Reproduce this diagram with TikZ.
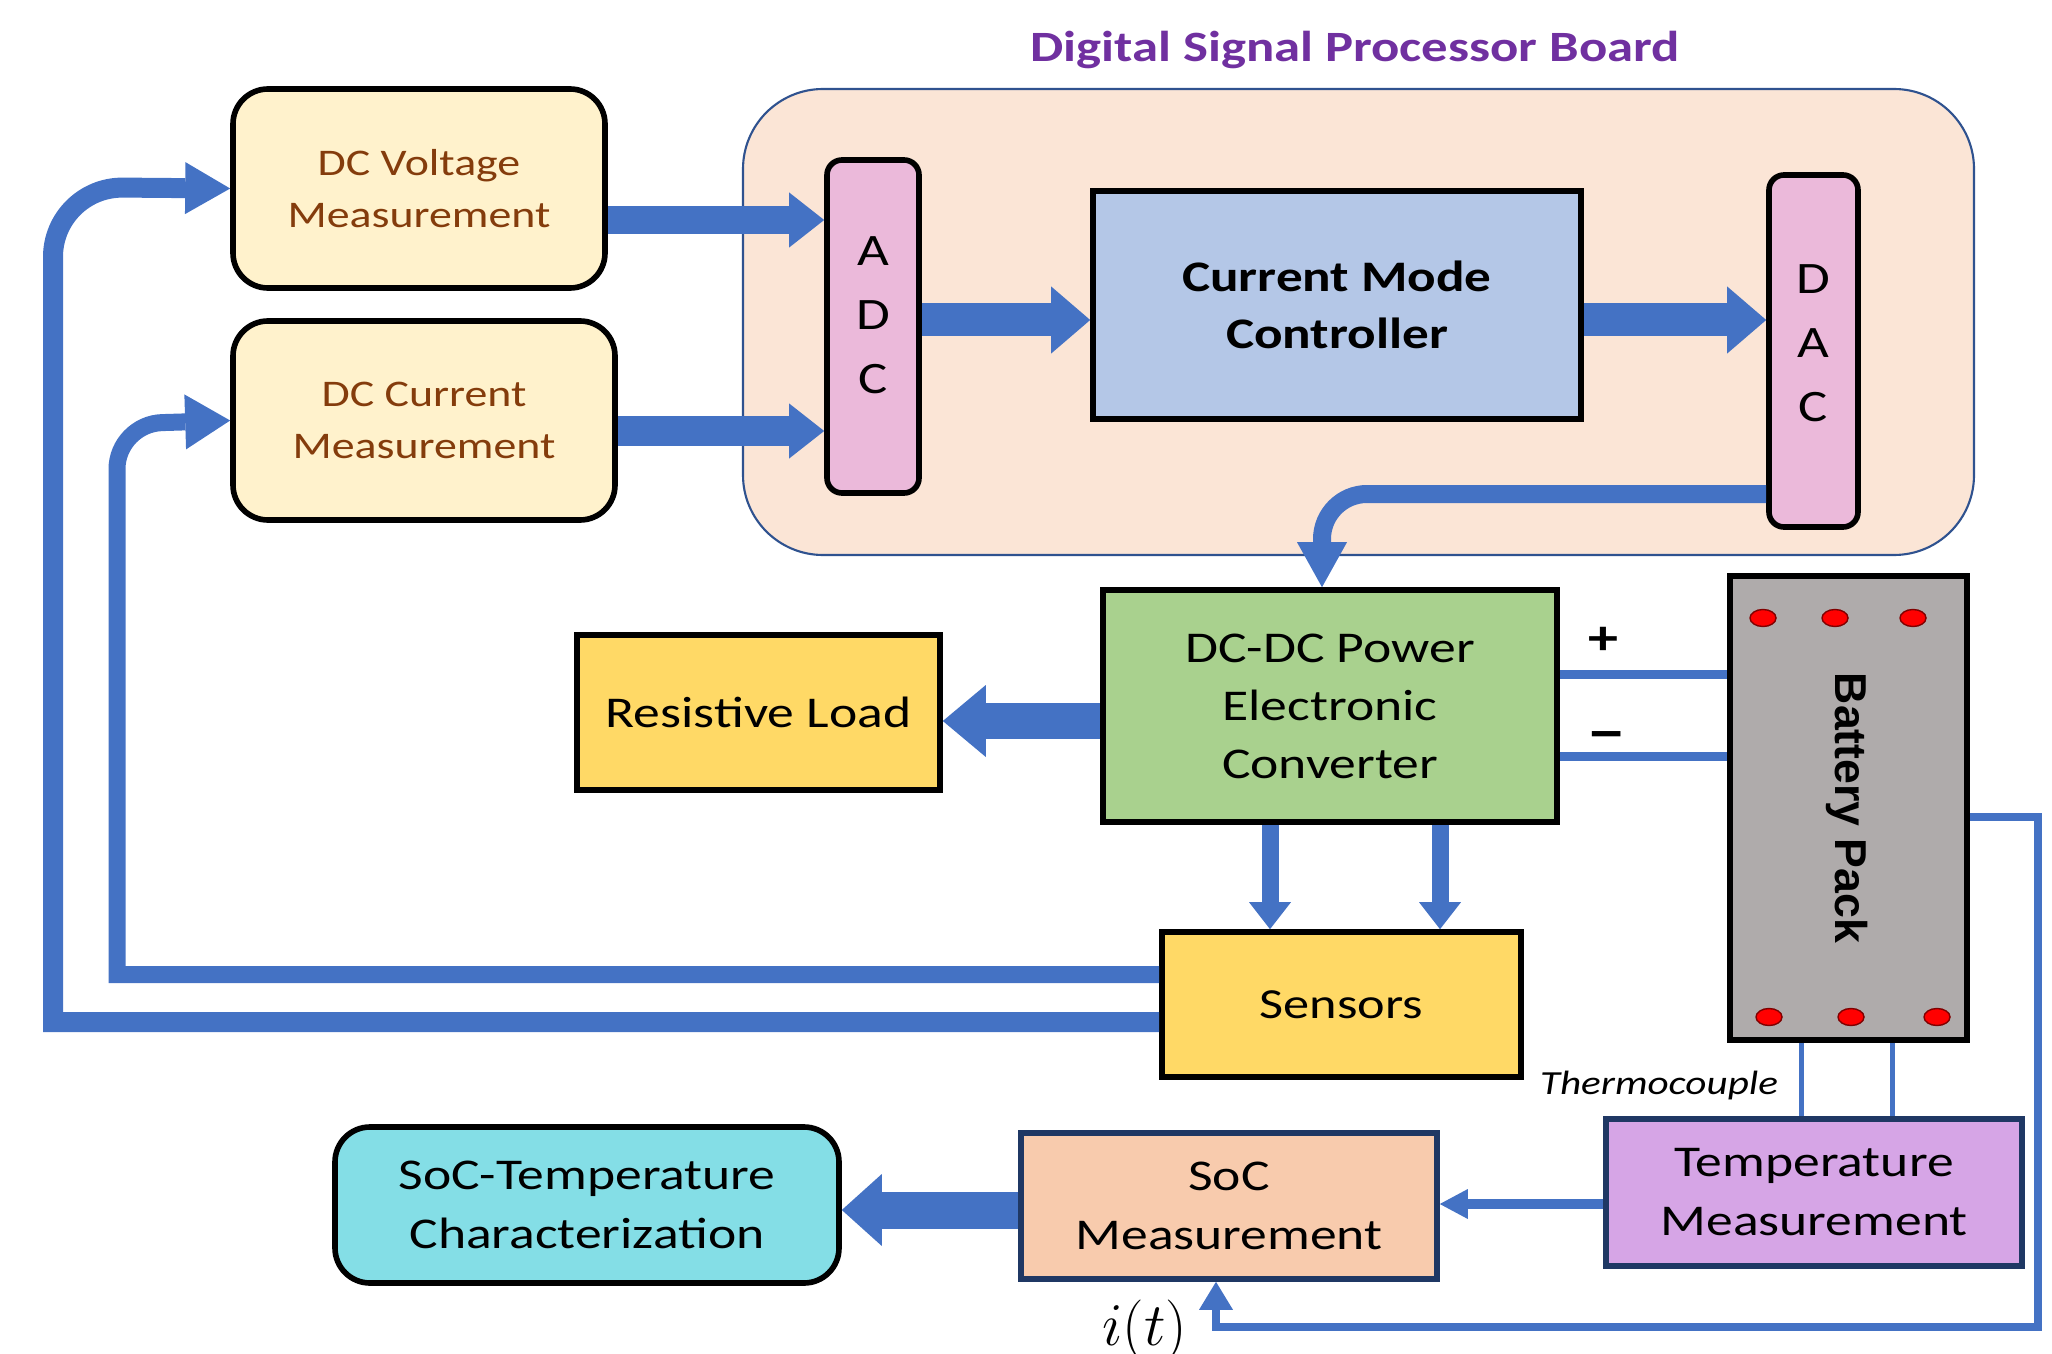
\documentclass[tikz,border=0pt]{standalone}
\usepackage{fontspec}
\setmainfont{Carlito}[FakeStretch=1.22]
\newfontfamily\packfont{Liberation Sans}
\newfontfamily\signfont{DejaVu Sans}
\usetikzlibrary{arrows.meta}

\definecolor{flowblue}{HTML}{4472C4}
\definecolor{boardfill}{HTML}{FBE5D6}
\definecolor{boardline}{HTML}{2F528F}
\definecolor{titlepurple}{HTML}{7030A0}
\definecolor{measfill}{HTML}{FFF2CC}
\definecolor{meastext}{HTML}{843C0C}
\definecolor{convpink}{HTML}{EBB9DA}
\definecolor{ctrlblue}{HTML}{B4C7E7}
\definecolor{convgreen}{HTML}{A9D18E}
\definecolor{loadyellow}{HTML}{FFD966}
\definecolor{packgray}{HTML}{AFABAB}
\definecolor{navy}{HTML}{1F3864}
\definecolor{socfill}{HTML}{F8CBAD}
\definecolor{tempfill}{HTML}{D6A5E6}
\definecolor{charfill}{HTML}{84DEE6}

\tikzset{
  blk/.style={draw=black, line width=1.6pt, align=center, inner sep=0pt},
  meas/.style={blk, rounded corners=0.35cm, fill=measfill, text=meastext,
    font=\fontsize{10.7}{15}\selectfont},
  conv/.style={blk, rounded corners=0.15cm, fill=convpink},
  letters/.style={align=center, font=\fontsize{12.8}{18.2}\selectfont},
  big/.style={font=\fontsize{12.5}{16.5}\selectfont},
  low/.style={blk, draw=navy, font=\fontsize{12.5}{16.8}\selectfont},
  flow/.style args={#1/#2/#3}{draw=flowblue, line width=#1,
    -{Triangle[length=#2, width=#3, line width=0pt]}},
  wire/.style={draw=flowblue, line width=#1},
}

\begin{document}
\begin{tikzpicture}
    \useasboundingbox (0,0) rectangle (20.52,-13.54);

    \node[draw=boardline, line width=0.6pt, fill=boardfill, rounded corners=0.8cm,
      minimum width=12.31cm, minimum height=4.66cm] (board) at (13.585,-3.22) {};
    \node[text=titlepurple, font=\bfseries\fontsize{12.3}{14}\selectfont] (title) at (13.55,-0.50) {Digital Signal Processor Board};

    \node[meas, minimum width=3.72cm, minimum height=1.99cm] (dcv) at (4.19,-1.885) {DC Voltage\\Measurement};
    \node[meas, minimum width=3.82cm, minimum height=1.99cm] (dci) at (4.24,-4.205) {DC Current\\Measurement};

    \node[conv, minimum width=0.92cm, minimum height=3.33cm] (adc) at (8.73,-3.265) {};
    \node[letters] (adctext) at (8.73,-3.15) {A\\D\\C};
    \node[blk, fill=ctrlblue, minimum width=4.88cm, minimum height=2.28cm,
      font=\bfseries\fontsize{12.4}{16.4}\selectfont] (cmc) at (13.37,-3.05) {Current Mode\\Controller};
    \node[conv, minimum width=0.89cm, minimum height=3.52cm] (dac) at (18.135,-3.51) {};
    \node[letters] (dactext) at (18.135,-3.43) {D\\A\\C};

    \node[blk, big, fill=convgreen, minimum width=4.54cm, minimum height=2.32cm] (dcdc) at (13.30,-7.06) {DC-DC Power\\Electronic\\Converter};
    \node[blk, big, fill=loadyellow, minimum width=3.63cm, minimum height=1.55cm] (load) at (7.585,-7.125) {Resistive Load};
    \node[blk, fill=packgray, minimum width=2.37cm, minimum height=4.64cm] (batt) at (18.485,-8.08) {};
    \node[rotate=-90, font=\packfont\bfseries\fontsize{12.7}{14}\selectfont] (battname) at (18.47,-8.08) {Battery Pack};
    \node[blk, fill=loadyellow, minimum width=3.59cm, minimum height=1.45cm,
      font=\fontsize{12.2}{14}\selectfont] (sens) at (13.415,-10.045) {Sensors};

    \node[low, fill=tempfill, minimum width=4.16cm, minimum height=1.47cm] (temp) at (18.14,-11.925) {Temperature\\Measurement};
    \node[low, fill=socfill, minimum width=4.16cm, minimum height=1.46cm] (soc) at (12.29,-12.06) {SoC\\Measurement};
    \node[low, draw=black, rounded corners=0.35cm, fill=charfill, minimum width=5.04cm,
      minimum height=1.56cm] (char) at (5.87,-12.05) {SoC-Temperature\\Characterization};

    \foreach \x in {17.63,18.35,19.13}
        \draw[fill=red, draw=red!50!black, line width=0.4pt] (\x,-6.18) ellipse (0.13 and 0.085);
    \foreach \x in {17.69,18.51,19.37}
        \draw[fill=red, draw=red!50!black, line width=0.4pt] (\x,-10.17) ellipse (0.13 and 0.085);

    \node[font=\bfseries\fontsize{14}{15}\selectfont] (plus) at (16.03,-6.41) {+};
    \node[font=\signfont\bfseries\fontsize{13}{15}\selectfont] (minus) at (16.07,-7.40) {−};
    \node[font=\itshape\fontsize{9.6}{11}\selectfont] (thermo) at (16.59,-10.85) {Thermocouple};
    \node[font=\fontsize{16}{17}\selectfont] (curr) at (11.45,-13.30) {$i(t)$};

    \draw[flow=0.28cm/0.35cm/0.55cm] (dcv.east |- 0,-2.20) -- (adc.west |- 0,-2.20);
    \draw[flow=0.30cm/0.35cm/0.55cm] (dci.east |- 0,-4.31) -- (adc.west |- 0,-4.31);
    \draw[flow=0.33cm/0.39cm/0.67cm] (adc.east |- 0,-3.20) -- (cmc.west |- 0,-3.20);
    \draw[flow=0.33cm/0.39cm/0.67cm] (cmc.east |- 0,-3.20) -- (dac.west |- 0,-3.20);
    \draw[flow=0.18cm/0.45cm/0.50cm, rounded corners=0.45cm] (dac.west |- 0,-4.94) -| (13.22,0 |- dcdc.north);
    \draw[flow=0.36cm/0.43cm/0.72cm] (dcdc.west |- 0,-7.21) -- (load.east |- 0,-7.21);
    \draw[flow=0.17cm/0.27cm/0.42cm] (12.70,0 |- dcdc.south) -- (12.70,0 |- sens.north);
    \draw[flow=0.17cm/0.27cm/0.42cm] (14.40,0 |- dcdc.south) -- (14.40,0 |- sens.north);
    \draw[flow=0.17cm/0.45cm/0.55cm] (sens.west |- 0,-9.745) -- (1.17,-9.745)
        [rounded corners=0.45cm] -- (1.17,-4.24) -- (dci.west);
    \draw[flow=0.20cm/0.45cm/0.52cm] (sens.west |- 0,-10.22) -- (0.53,-10.22)
        [rounded corners=0.7cm] -- (0.53,-1.87) -- (dcv.west);

    \draw[wire=0.09cm] (dcdc.east |- 0,-6.74) -- (batt.west |- 0,-6.74);
    \draw[wire=0.09cm] (dcdc.east |- 0,-7.56) -- (batt.west |- 0,-7.56);
    \draw[wire=0.05cm] (18.01,0 |- batt.south) -- (18.01,0 |- temp.north);
    \draw[wire=0.05cm] (18.92,0 |- batt.south) -- (18.92,0 |- temp.north);
    \draw[flow=0.10cm/0.28cm/0.30cm] (temp.west |- 0,-12.04) -- (soc.east |- 0,-12.04);
    \draw[flow=0.37cm/0.40cm/0.72cm] (soc.west |- 0,-12.10) -- (char.east |- 0,-12.10);
    \draw[flow=0.08cm/0.28cm/0.34cm] (batt.east |- 0,-8.17) -| (20.38,-13.27) -| (12.16,0 |- soc.south);
\end{tikzpicture}
\end{document}
